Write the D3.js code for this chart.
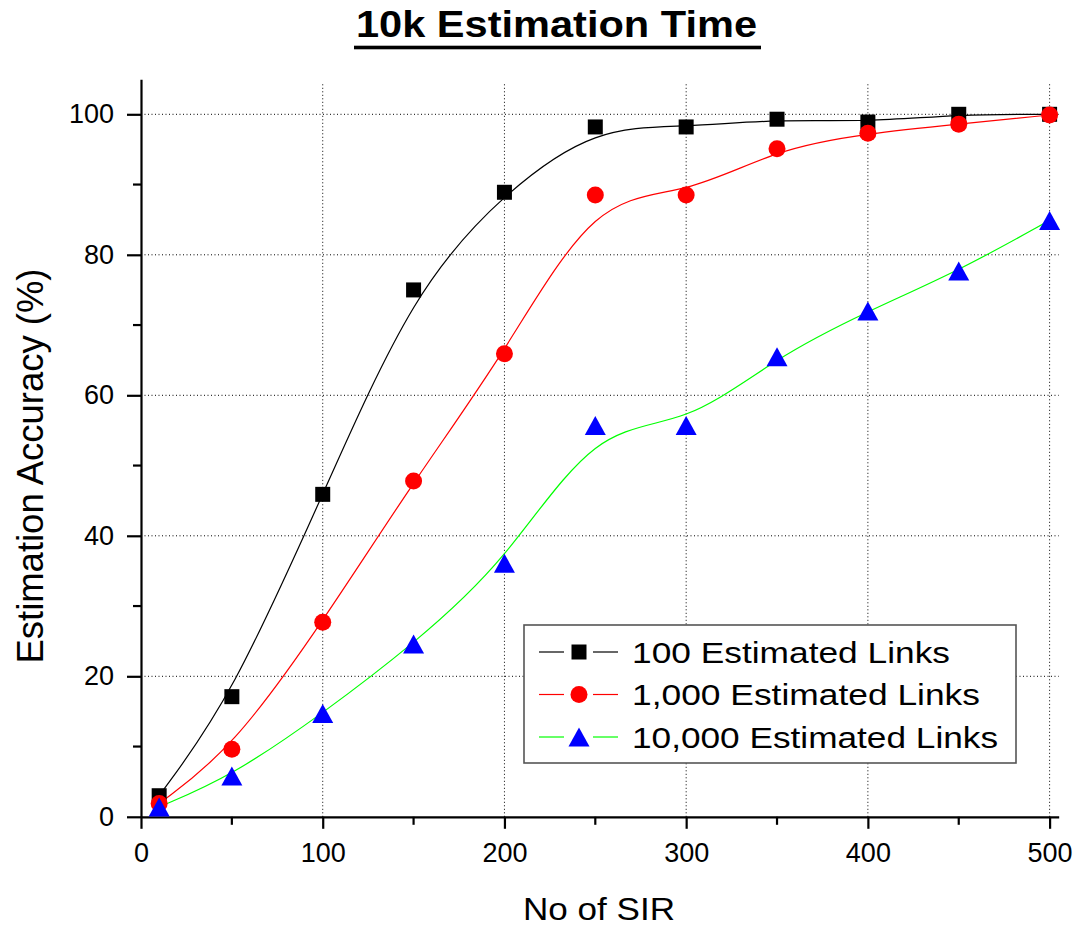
<!DOCTYPE html>
<html>
<head>
<meta charset="utf-8">
<script src="https://cdn.jsdelivr.net/npm/d3@7"></script>
<style>
  body { margin: 0; background: #fff; }
  svg { display: block; font-family: Arial, "Liberation Sans", sans-serif; }
</style>
</head>
<body>
<svg id="chart" width="1075" height="926"></svg>
<script>
// Number of SIR on the x axis
const sirCounts = [10, 50, 100, 150, 200, 250, 300, 350, 400, 450, 500];
// Estimation accuracy (%) for each link count
const links100   = [3.0, 17.1, 45.9, 75.0, 88.9, 98.2, 98.2, 99.3, 98.9, 100.0, 100.0];
const links1000  = [1.9, 9.6, 27.7, 47.8, 65.9, 88.5, 88.5, 95.1, 97.3, 98.6, 99.9];
const links10000 = [1.4, 5.8, 14.7, 24.6, 36.1, 55.7, 55.7, 65.5, 72.0, 77.7, 84.9];
const seriesNames = ["100 Estimated Links", "1,000 Estimated Links", "10,000 Estimated Links"];
const xTicks = [0, 100, 200, 300, 400, 500];
const xMinorTicks = [50, 150, 250, 350, 450];
const yTicks = [0, 20, 40, 60, 80, 100];
const yMinorTicks = [10, 30, 50, 70, 90];

const svg = d3.select("#chart");

const x = d3.scaleLinear().domain([0, 505]).range([141, 141 + 505 * 1.8172]);
const y = d3.scaleLinear().domain([0, 105]).range([816.8, 816.8 - 105 * 7.025]);

const [x0, x1] = x.range();
const [y0, y1] = y.range();

// dotted grid at the major ticks
const grid = svg.append("g").attr("stroke", "#000").attr("stroke-width", 1)
  .attr("stroke-dasharray", "1,2.5");
grid.selectAll("line.v").data(xTicks.filter(d => d > 0)).join("line")
  .attr("class", "v")
  .attr("x1", d => x(d)).attr("x2", d => x(d))
  .attr("y1", y0).attr("y2", y1 + 4);
grid.selectAll("line.h").data(yTicks.filter(d => d > 0)).join("line")
  .attr("class", "h")
  .attr("x1", x0).attr("x2", x1)
  .attr("y1", d => y(d)).attr("y2", d => y(d));

// axes
const xAxis = svg.append("g").attr("transform", `translate(0,${y0})`)
  .call(d3.axisBottom(x).tickValues(xTicks).tickSize(12).tickSizeOuter(0).tickPadding(14));
const yAxis = svg.append("g").attr("transform", `translate(${x0},0)`)
  .call(d3.axisLeft(y).tickValues(yTicks).tickSize(14).tickSizeOuter(0).tickPadding(13));

[xAxis, yAxis].forEach(g => {
  g.select(".domain").attr("stroke", "#000").attr("stroke-width", 2.2);
  g.selectAll(".tick line").attr("stroke", "#000").attr("stroke-width", 2.2);
  g.selectAll(".tick text").attr("fill", "#000")
    .style("font-family", "Arial, 'Liberation Sans', sans-serif").style("font-size", "27px");
});

// minor ticks
svg.append("g").selectAll("line").data(xMinorTicks).join("line")
  .attr("x1", d => x(d)).attr("x2", d => x(d))
  .attr("y1", y0).attr("y2", y0 + 8)
  .attr("stroke", "#000").attr("stroke-width", 2.2);
svg.append("g").selectAll("line").data(yMinorTicks).join("line")
  .attr("x1", x0 - 8).attr("x2", x0)
  .attr("y1", d => y(d)).attr("y2", d => y(d))
  .attr("stroke", "#000").attr("stroke-width", 2.2);

// series
const series = [
  { name: seriesNames[0], values: links100,   line: "#000000", fill: "#000000", shape: "square" },
  { name: seriesNames[1], values: links1000,  line: "#ff0000", fill: "#ff0000", shape: "circle" },
  { name: seriesNames[2], values: links10000, line: "#00ff00", fill: "#0000ff", shape: "triangle" }
];

function markerPath(shape) {
  if (shape === "square") return "M-7.5,-7.5H7.5V7.5H-7.5Z";
  if (shape === "circle") return d3.path ? (() => { const p = d3.path(); p.arc(0, 0, 8.5, 0, 2 * Math.PI); return p.toString(); })() : "";
  return "M0,-9.5L10.5,9.5L-10.5,9.5Z";
}

const line = d3.line()
  .x((d, i) => x(sirCounts[i]))
  .y(d => y(d))
  .curve(d3.curveBasis);

svg.append("g").selectAll("path").data(series).join("path")
  .attr("d", s => line(s.values))
  .attr("fill", "none")
  .attr("stroke", s => s.line)
  .attr("stroke-width", 1.2);

series.forEach(s => {
  svg.append("g").selectAll("path").data(s.values).join("path")
    .attr("transform", (d, i) => `translate(${x(sirCounts[i])},${y(d)})`)
    .attr("d", markerPath(s.shape))
    .attr("fill", s.fill);
});

// legend
const legend = svg.append("g");
legend.append("rect")
  .attr("x", 524).attr("y", 625).attr("width", 492).attr("height", 138)
  .attr("fill", "#fff").attr("stroke", "#555").attr("stroke-width", 1.6);
const legendWidths = [318, 348, 366];
series.forEach((s, i) => {
  const cy = 652 + i * 42.5;
  const row = legend.append("g");
  row.append("line").attr("x1", 539).attr("x2", 564).attr("y1", cy).attr("y2", cy)
    .attr("stroke", s.line).attr("stroke-width", 1.2);
  row.append("line").attr("x1", 593).attr("x2", 618).attr("y1", cy).attr("y2", cy)
    .attr("stroke", s.line).attr("stroke-width", 1.2);
  row.append("path").attr("transform", `translate(579,${cy})`)
    .attr("d", markerPath(s.shape)).attr("fill", s.fill);
  row.append("text").attr("x", 632).attr("y", cy + 10.5)
    .attr("font-size", 30).attr("fill", "#000")
    .attr("textLength", legendWidths[i]).attr("lengthAdjust", "spacingAndGlyphs")
    .text(s.name);
});

// titles
svg.append("text").attr("x", 556.5).attr("y", 37.3)
  .attr("text-anchor", "middle").attr("font-size", 37).attr("font-weight", "bold")
  .attr("textLength", 401).attr("lengthAdjust", "spacingAndGlyphs")
  .text("10k Estimation Time");
svg.append("rect").attr("x", 354).attr("y", 45.7).attr("width", 407).attr("height", 3.6).attr("fill", "#000");

svg.append("text").attr("x", 599).attr("y", 920)
  .attr("text-anchor", "middle").attr("font-size", 32)
  .attr("textLength", 152).attr("lengthAdjust", "spacingAndGlyphs")
  .text("No of SIR");

svg.append("text").attr("transform", "translate(43,466) rotate(-90)")
  .attr("text-anchor", "middle").attr("font-size", 36)
  .attr("textLength", 395).attr("lengthAdjust", "spacingAndGlyphs")
  .text("Estimation Accuracy (%)");
</script>
</body>
</html>
